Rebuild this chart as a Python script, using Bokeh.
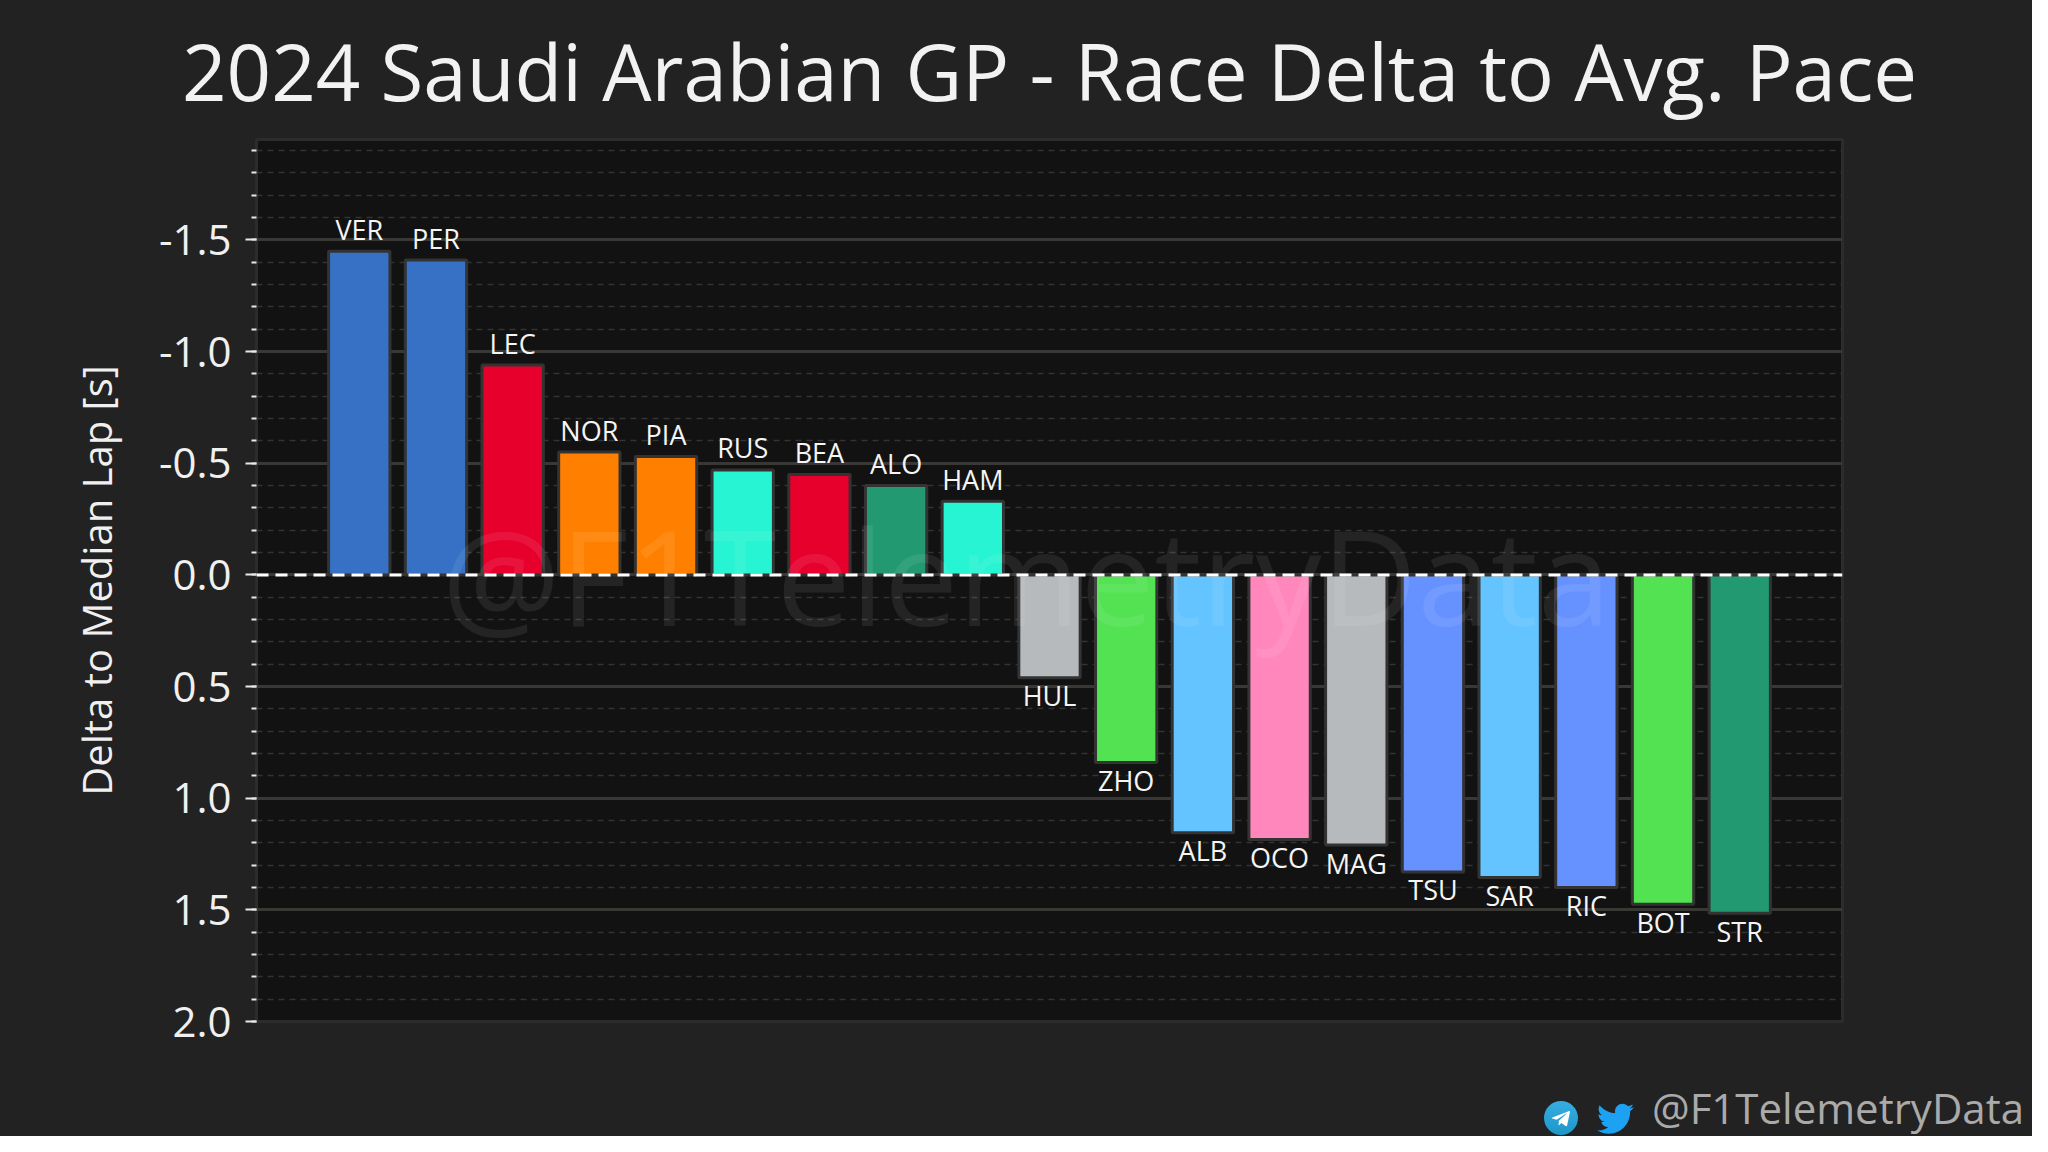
from bokeh.plotting import figure
from bokeh.layouts import column
from bokeh.models import (ColumnDataSource, Range1d, SingleIntervalTicker, PrintfTickFormatter,
                          Span, Label, Title, Div)
from bokeh.core.properties import value
from bokeh.embed import file_html
from bokeh.resources import INLINE

# ---- data ----
drivers = ["VER", "PER", "LEC", "NOR", "PIA", "RUS", "BEA", "ALO", "HAM", "HUL",
           "ZHO", "ALB", "OCO", "MAG", "TSU", "SAR", "RIC", "BOT", "STR"]
deltas = [-1.45, -1.41, -0.94, -0.55, -0.53, -0.47, -0.45, -0.40, -0.33, 0.46,
          0.84, 1.155, 1.185, 1.21, 1.33, 1.355, 1.40, 1.475, 1.515]
colors = ["#3671C6", "#3671C6", "#E8002D", "#FF8000", "#FF8000", "#27F4D2", "#E8002D",
          "#229971", "#27F4D2", "#B6BABD", "#52E252", "#64C4FF", "#FF87BC", "#B6BABD",
          "#6692FF", "#64C4FF", "#6692FF", "#52E252", "#229971"]
title_text = "2024 Saudi Arabian GP - Race Delta to Avg. Pace"
y_label = "Delta to Median Lap [s]"
handle = "@F1TelemetryData"

FONT = "Open Sans"
BG = "#222222"
W = 2032
H_MAIN = 1080
H_FOOT = 56
idx = list(range(len(drivers)))

src = ColumnDataSource(dict(x=idx, top=deltas, color=colors, name=drivers))
neg = ColumnDataSource(dict(x=[i for i in idx if deltas[i] < 0],
                            y=[d for d in deltas if d < 0],
                            name=[drivers[i] for i in idx if deltas[i] < 0]))
pos = ColumnDataSource(dict(x=[i for i in idx if deltas[i] >= 0],
                            y=[d for d in deltas if d >= 0],
                            name=[drivers[i] for i in idx if deltas[i] >= 0]))

fig = figure(width=W, height=H_MAIN, output_backend="svg", toolbar_location=None,
             x_range=Range1d(-1.34, len(drivers) - 1 + 1.34),
             y_range=Range1d(2.0, -1.95),
             min_border_left=256, min_border_right=190, min_border_top=138,
             min_border_bottom=H_MAIN - 1021, margin=0)

fig.background_fill_color = "#121212"
fig.border_fill_color = BG
fig.outline_line_color = "#2e2c2b"
fig.outline_line_width = 3

fig.add_layout(Title(text=title_text, align="center", text_font=FONT, text_font_size="78px",
                     text_color="#f2f2f2", text_font_style="normal", standoff=31), "above")

# axes
fig.xaxis.visible = False
fig.xgrid.grid_line_color = None
yax = fig.yaxis[0]
yax.ticker = SingleIntervalTicker(interval=0.5, num_minor_ticks=5)
yax.formatter = PrintfTickFormatter(format="%.1f")
yax.axis_line_color = None
yax.major_tick_line_color = "#e8e8e8"
yax.major_tick_line_width = 2
yax.major_tick_out = 11
yax.major_tick_in = 0
yax.minor_tick_line_color = "#e8e8e8"
yax.minor_tick_line_width = 2
yax.minor_tick_out = 5
yax.minor_tick_in = 0
yax.major_label_text_font = FONT
yax.major_label_text_font_size = "42px"
yax.major_label_text_color = "#f0f0f0"
yax.major_label_standoff = 14
yax.axis_label = y_label
yax.axis_label_text_font = FONT
yax.axis_label_text_font_size = "40px"
yax.axis_label_text_font_style = "normal"
yax.axis_label_text_color = "#f0f0f0"
yax.axis_label_standoff = 32

g = fig.ygrid[0]
g.grid_line_color = "#3a3835"
g.grid_line_width = 3
g.minor_grid_line_color = "#333333"
g.minor_grid_line_width = 1.5
g.minor_grid_line_dash = "6 5"

fig.vbar(x="x", top="top", bottom=0, width=0.8, source=src, fill_color="color",
         line_color="#333333", line_width=3)

fig.text(x="x", y="y", text="name", source=neg, text_font=value(FONT), text_font_size="27px",
         text_color="#f5f5f5", text_align="center", text_baseline="middle", y_offset=-22)
fig.text(x="x", y="y", text="name", source=pos, text_font=value(FONT), text_font_size="27px",
         text_color="#f5f5f5", text_align="center", text_baseline="middle", y_offset=18)

fig.add_layout(Span(location=0, dimension="width", line_color="white", line_width=3,
                    line_dash="12 7"))

# watermark
fig.add_layout(Label(x=(len(drivers) - 1) / 2 - 0.3, y=0, text=handle, text_font=FONT,
                     text_font_size="132px", text_color="white", text_alpha=0.08,
                     text_align="center", text_baseline="middle"))

# ---- footer: social icons + handle ----
telegram_svg = (
    '<svg style="position:absolute;left:1544px;top:21px" width="34" height="34" viewBox="0 0 24 24">'
    '<defs><linearGradient id="tg" x1="0" y1="0" x2="0" y2="1">'
    '<stop offset="0" stop-color="#37AEE2"/><stop offset="1" stop-color="#1E96C8"/></linearGradient></defs>'
    '<circle cx="12" cy="12" r="12" fill="url(#tg)"/>'
    '<path d="M5.5 11.8 L17.4 7.2 C18 7 18.4 7.3 18.3 8 L16.3 17.3 C16.2 17.9 15.8 18 15.3 17.7 '
    'L12.3 15.5 L10.8 16.9 C10.7 17 10.5 17.1 10.3 17.1 L10.5 14 L16 9 C16.2 8.8 16 8.7 15.7 8.9 '
    'L8.9 13.2 L6 12.3 C5.4 12.1 5.4 11.9 5.5 11.8Z" fill="white"/></svg>'
)
bird_svg = (
    '<svg style="position:absolute;left:1595px;top:21px" width="40" height="34" viewBox="0 1 24 21">'
    '<path fill="#1DA1F2" d="M23.643 4.937c-.835.37-1.732.62-2.675.733.962-.576 1.7-1.49 2.048-2.578'
    '-.9.534-1.897.922-2.958 1.13-.85-.904-2.06-1.47-3.4-1.47-2.572 0-4.658 2.086-4.658 4.66 0 .364.042'
    '.718.12 1.06-3.873-.195-7.304-2.05-9.602-4.868-.4.69-.63 1.49-.63 2.342 0 1.616.823 3.043 2.072 '
    '3.878-.764-.025-1.482-.234-2.11-.583v.06c0 2.257 1.605 4.14 3.737 4.568-.392.106-.803.162-1.227'
    '.162-.3 0-.593-.028-.877-.082.593 1.850 2.313 3.198 4.352 3.234-1.595 1.250-3.604 1.995-5.786 '
    '1.995-.376 0-.747-.022-1.112-.065 2.062 1.323 4.510 2.093 7.140 2.093 8.570 0 13.255-7.098 '
    '13.255-13.254 0-.2-.005-.402-.014-.602.910-.658 1.700-1.477 2.323-2.410z"/></svg>'
)
handle_html = (
    f'<span style="position:absolute;right:8px;top:7px;font-family:\'{FONT}\';font-size:42px;'
    f'line-height:42px;color:#aaaaaa;white-space:nowrap">{handle}</span>'
)
foot = Div(text=(f'<div style="position:relative;width:{W}px;height:{H_FOOT}px;overflow:hidden;'
                 f'background:{BG};margin:0;padding:0">' + telegram_svg + bird_svg + handle_html
                 + '</div>'),
           width=W, height=H_FOOT, margin=0,
           styles={"background-color": BG, "overflow": "hidden", "margin": "0", "padding": "0"})

p = column(fig, foot, spacing=0, margin=0, styles={"background-color": BG})

open("out.html", "w").write(file_html(p, INLINE))
